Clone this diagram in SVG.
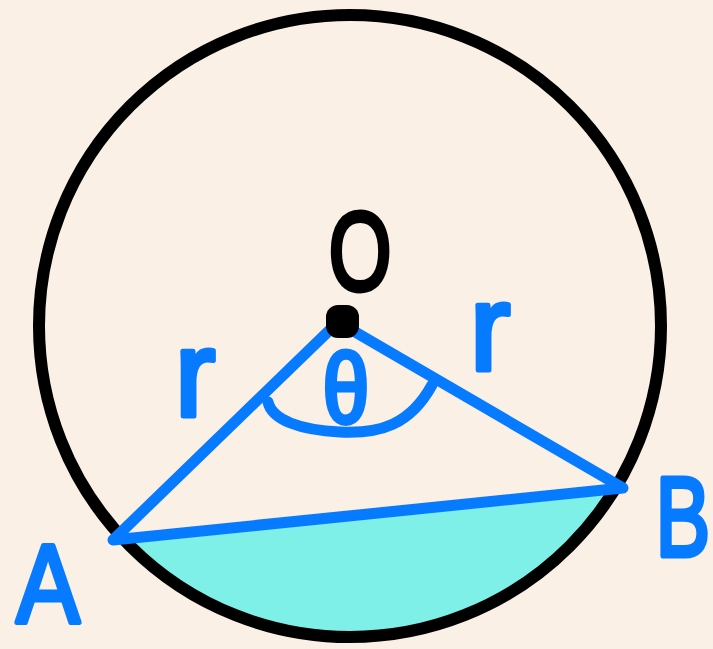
<svg xmlns="http://www.w3.org/2000/svg" width="713" height="649" viewBox="0 0 713 649">
<style>
.blue{fill:none;stroke:#077BFF;stroke-width:11;stroke-linecap:round;stroke-linejoin:round}
.lbl{font-family:"Liberation Sans","DejaVu Sans",sans-serif;fill:#077BFF;stroke:#077BFF;stroke-width:5;stroke-linejoin:round;text-anchor:middle}
</style>
<defs>
<clipPath id="inner"><circle cx="350" cy="326" r="306"/></clipPath>
</defs>
<rect width="713" height="649" fill="#FBF0E6"/>
<g id="segment">
<path d="M113,540 L623,488 A313,313 0 0 1 113,540 Z" fill="#7EF0E8" clip-path="url(#inner)"/>
</g>
<g id="circle">
<circle cx="350" cy="326" r="311" fill="none" stroke="#000" stroke-width="12"/>
</g>
<g id="connectors">
<path class="blue" d="M338,322 L113,540 L623,488 Z"/>
<path class="blue" d="M268,402 C272,420 300,430 340,432 C380,434 410,425 432,385"/>
</g>
<g id="center">
<rect x="326" y="305" width="33" height="33" rx="12" fill="#000"/>
<text x="360" y="290" class="lbl" style="fill:#000;stroke:#000" font-size="112" transform="translate(360 0) scale(0.72 1) translate(-360 0)">O</text>
</g>
<g id="theta">
<text x="346" y="422" class="lbl" font-size="98" transform="translate(346 0) scale(0.85 1) translate(-346 0)">θ</text>
</g>
<g id="r-left">
<text x="195" y="416" class="lbl" font-size="122">r</text>
</g>
<g id="r-right">
<text x="490" y="370" class="lbl" font-size="122">r</text>
</g>
<g id="A">
<text x="48" y="622" class="lbl" font-size="112" transform="translate(48 0) scale(0.85 1) translate(-48 0)">A</text>
</g>
<g id="B">
<text x="683" y="556" class="lbl" font-size="114" transform="translate(683 0) scale(0.72 1) translate(-683 0)">B</text>
</g>
</svg>
